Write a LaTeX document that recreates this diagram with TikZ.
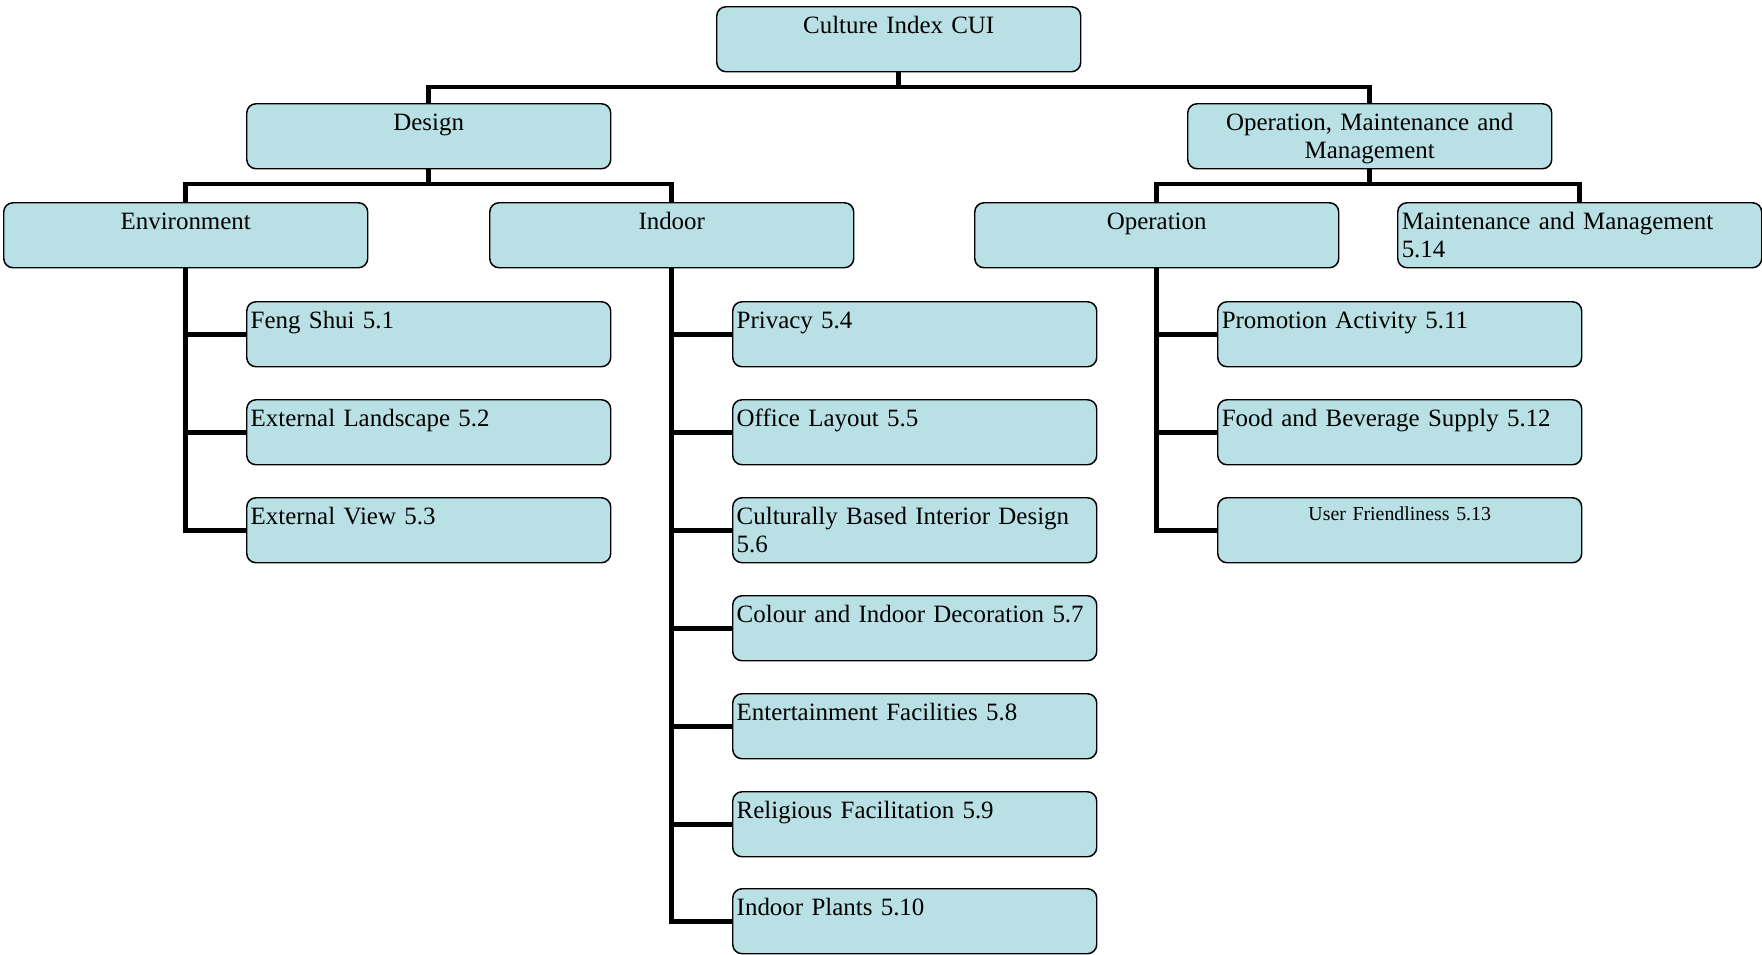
\documentclass[tikz,border=0pt]{standalone}
\usepackage{fontspec}
\setmainfont{Liberation Serif}
\usetikzlibrary{backgrounds}
\definecolor{boxfill}{RGB}{185,224,228}

\begin{document}
\begin{tikzpicture}[x=0.75pt,y=-0.75pt,
  box/.style={draw=black, line width=1.1pt, fill=boxfill, rounded corners=7pt,
    anchor=north west, inner xsep=3pt, inner ysep=0pt, text width=267pt,
    text height=20.25pt, text depth=28.5pt, font=\fontsize{18.7}{21}\selectfont},
  head/.style={box, align=center},
  leaf/.style={box, align=left},
  conn/.style={line width=3.6pt}]

\useasboundingbox (0,0) rectangle (1762,954);

% top levels
\node[head] (cui) at (716,6) {Culture Index CUI};
\node[head] (design) at (246,103) {Design};
\node[head] (omm) at (1187,103) {Operation, Maintenance and\\Management};

% second level
\node[head] (env) at (3,202) {Environment};
\node[head] (indoor) at (489,202) {Indoor};
\node[head] (oper) at (974,202) {Operation};
\node[leaf] (maint) at (1397,202) {Maintenance and Management\\5.14};

% environment items
\node[leaf] (fs) at (246,301) {Feng Shui 5.1};
\node[leaf] (el) at (246,399) {External Landscape 5.2};
\node[leaf] (ev) at (246,497) {External View 5.3};

% indoor items
\node[leaf] (pr) at (732,301) {Privacy 5.4};
\node[leaf] (ol) at (732,399) {Office Layout 5.5};
\node[leaf] (cb) at (732,497) {Culturally Based Interior Design\\5.6};
\node[leaf] (cd) at (732,595) {Colour and Indoor Decoration 5.7};
\node[leaf] (ef) at (732,693) {Entertainment Facilities 5.8};
\node[leaf] (rf) at (732,791) {Religious Facilitation 5.9};
\node[leaf] (ip) at (732,888) {Indoor Plants 5.10};

% operation items
\node[leaf] (pa) at (1217,301) {Promotion Activity 5.11};
\node[leaf] (fb) at (1217,399) {Food and Beverage Supply 5.12};
\node[head, text height=17.25pt, text depth=31.5pt,
      font=\fontsize{14.9}{17}\selectfont] (uf) at (1217,497) {User Friendliness 5.13};

\begin{scope}[on background layer]
  % tree bars
  \draw[conn] (cui.south) -- ++(0,16);
  \draw[conn] (design.north) -- ++(0,-16) -| (omm.north);
  \draw[conn] (design.south) -- ++(0,17);
  \draw[conn] (env.north) -- ++(0,-18) -| (indoor.north);
  \draw[conn] (omm.south) -- ++(0,17);
  \draw[conn] (oper.north) -- ++(0,-18) -| (maint.north);
  % trunks with side branches
  \draw[conn] (env.south) |- (fs.west);
  \draw[conn] (env.south) |- (el.west);
  \draw[conn] (env.south) |- (ev.west);
  \draw[conn] (indoor.south) |- (pr.west);
  \draw[conn] (indoor.south) |- (ol.west);
  \draw[conn] (indoor.south) |- (cb.west);
  \draw[conn] (indoor.south) |- (cd.west);
  \draw[conn] (indoor.south) |- (ef.west);
  \draw[conn] (indoor.south) |- (rf.west);
  \draw[conn] (indoor.south) |- (ip.west);
  \draw[conn] (oper.south) |- (pa.west);
  \draw[conn] (oper.south) |- (fb.west);
  \draw[conn] (oper.south) |- (uf.west);
\end{scope}
\end{tikzpicture}
\end{document}
